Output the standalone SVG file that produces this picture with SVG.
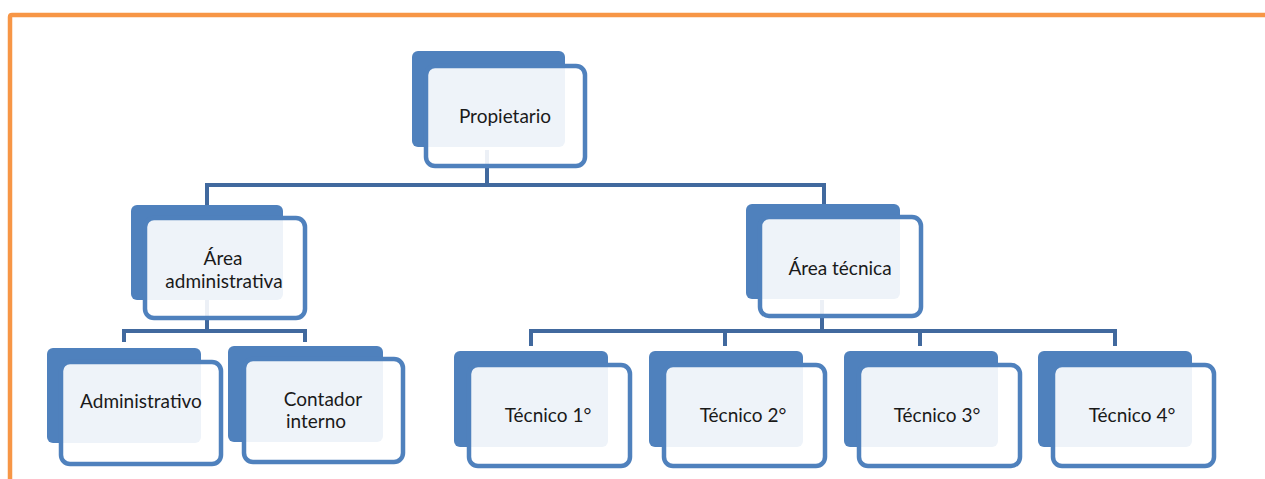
<svg xmlns="http://www.w3.org/2000/svg" width="1265" height="479" viewBox="0 0 1265 479">
  <style>
    .back { fill: #4F81BD; }
    .front { fill: #FFFFFF; fill-opacity: 0.9; stroke: #4F81BD; stroke-width: 4.5; }
    .conn { fill: none; stroke: #41699E; stroke-width: 4; }
    .frame { fill: none; stroke: #F79646; stroke-width: 4.5; }
    text { font-family: Lato, "Liberation Sans", sans-serif; font-size: 19px; fill: #1A1A1A; text-anchor: middle; }
  </style>

  <rect width="1265" height="479" fill="#FFFFFF"/>

  <!-- page border -->
  <path class="frame" d="M10 479 V17 Q10 15 12 15 H1265"/>

  <!-- connectors -->
  <g id="connectors">
    <path class="conn" d="M487 150 V185 M207 205 V185 H824 V205"/>
    <path class="conn" d="M207 300 V331 M124 342 V331 H305 V342"/>
    <path class="conn" d="M822 300 V331 M531 346 V331 H1115 V346 M725 331 V346 M920 331 V346"/>
  </g>

  <g id="propietario">
    <rect class="back" x="412" y="51" width="153" height="96" rx="6"/>
    <rect class="front" x="426" y="66" width="159" height="100" rx="9"/>
    <text x="505" y="123">Propietario</text>
  </g>

  <g id="area-administrativa">
    <rect class="back" x="131" y="205" width="152" height="95" rx="6"/>
    <rect class="front" x="145" y="218" width="160" height="100" rx="9"/>
    <text x="223" y="265">Área</text>
    <text x="224" y="288">administrativa</text>
  </g>

  <g id="area-tecnica">
    <rect class="back" x="746" y="204" width="154" height="95" rx="6"/>
    <rect class="front" x="760" y="217" width="161" height="99" rx="9"/>
    <text x="840" y="275">Área técnica</text>
  </g>

  <g id="administrativo">
    <rect class="back" x="47" y="348" width="154" height="95" rx="6"/>
    <rect class="front" x="61" y="362" width="160" height="102" rx="9"/>
    <text x="141" y="408">Administrativo</text>
  </g>

  <g id="contador-interno">
    <rect class="back" x="228" y="346" width="155" height="96" rx="6"/>
    <rect class="front" x="244" y="359" width="159" height="103" rx="9"/>
    <text x="323" y="406">Contador</text>
    <text x="316" y="428">interno</text>
  </g>

  <g id="tecnico-1">
    <rect class="back" x="454" y="351" width="154" height="96" rx="6"/>
    <rect class="front" x="469" y="365" width="161" height="101" rx="9"/>
    <text x="548" y="422">Técnico 1°</text>
  </g>

  <g id="tecnico-2">
    <rect class="back" x="649" y="351" width="154" height="96" rx="6"/>
    <rect class="front" x="664" y="365" width="161" height="101" rx="9"/>
    <text x="743" y="422">Técnico 2°</text>
  </g>

  <g id="tecnico-3">
    <rect class="back" x="844" y="351" width="154" height="96" rx="6"/>
    <rect class="front" x="859" y="365" width="161" height="101" rx="9"/>
    <text x="937" y="422">Técnico 3°</text>
  </g>

  <g id="tecnico-4">
    <rect class="back" x="1038" y="351" width="154" height="96" rx="6"/>
    <rect class="front" x="1053" y="365" width="161" height="101" rx="9"/>
    <text x="1132" y="422">Técnico 4°</text>
  </g>
</svg>
